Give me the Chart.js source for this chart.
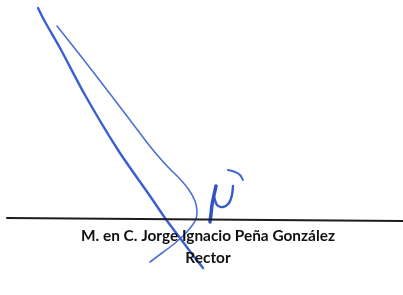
<!DOCTYPE html>
<html>
<head>
<meta charset="utf-8">
<script src="https://cdn.jsdelivr.net/npm/chart.js@4/dist/chart.umd.min.js"></script>
<style>
  html, body { margin: 0; padding: 0; background: #fff; }
  canvas { display: block; }
</style>
</head>
<body>
<canvas id="sig" width="403" height="295"></canvas>
<script>
// signature strokes (x, y in page pixels)
const strokeAx = [38, 44, 60, 85, 118, 150, 165, 180, 192, 203];
const strokeAy = [8, 20, 48, 95, 150, 196, 218, 238, 254, 268];

const strokeBx = [57, 80, 104, 130, 153, 168, 180, 189, 195, 197, 196, 191, 184, 174, 162, 150];
const strokeBy = [26, 55, 86, 120, 150, 167, 179, 190, 201, 211, 219, 227, 235, 244, 253, 262];

const stemX = [216, 214, 212, 211, 210];
const stemY = [186, 195, 205, 214, 222];

const cupX = [214, 217, 223, 229, 232, 233];
const cupY = [197, 205, 207, 203, 195, 186];

const accentX = [228, 235, 240, 243];
const accentY = [170, 172, 175, 180];

const ruleX = [7, 403];
const ruleY = [218, 221];

const nameLine = "M. en C. Jorge Ignacio Peña González";
const titleLine = "Rector";

function pts(xs, ys) {
    return xs.map((x, i) => ({ x: x, y: ys[i] }));
}

// text under the rule
const captionPlugin = {
    id: "caption",
    afterDatasetsDraw(chart) {
        const ctx = chart.ctx;
        const sx = chart.scales.x, sy = chart.scales.y;
        ctx.save();
        ctx.fillStyle = "#111";
        ctx.textAlign = "center";
        ctx.textBaseline = "alphabetic";
        ctx.font = "bold 15.4px Lato";
        ctx.fillText(nameLine, sx.getPixelForValue(208), sy.getPixelForValue(241));
        ctx.fillText(titleLine, sx.getPixelForValue(208), sy.getPixelForValue(263));
        ctx.restore();
    }
};

function stroke(xs, ys, color, width) {
    return {
        data: pts(xs, ys),
        showLine: true,
        tension: 0.3,
        borderColor: color,
        borderWidth: width,
        borderCapStyle: "round",
        pointRadius: 0
    };
}

const ctx = document.getElementById("sig").getContext("2d");

new Chart(ctx, {
    type: "scatter",
    data: {
        datasets: [
            stroke(ruleX, ruleY, "#1c1c1c", 2),
            stroke(strokeAx, strokeAy, "#3a5fd2", 2.4),
            stroke(strokeBx, strokeBy, "#4d70d6", 1.6),
            stroke(stemX, stemY, "#3153c4", 3.5),
            stroke(cupX, cupY, "#3a5cc9", 2.4),
            stroke(accentX, accentY, "#4468d2", 2)
        ]
    },
    options: {
        responsive: false,
        animation: false,
        layout: { padding: 0 },
        plugins: {
            legend: { display: false },
            tooltip: { enabled: false }
        },
        scales: {
            x: { type: "linear", min: 0, max: 403, display: false },
            y: { type: "linear", min: 0, max: 295, reverse: true, display: false }
        }
    },
    plugins: [captionPlugin]
});
</script>
</body>
</html>
